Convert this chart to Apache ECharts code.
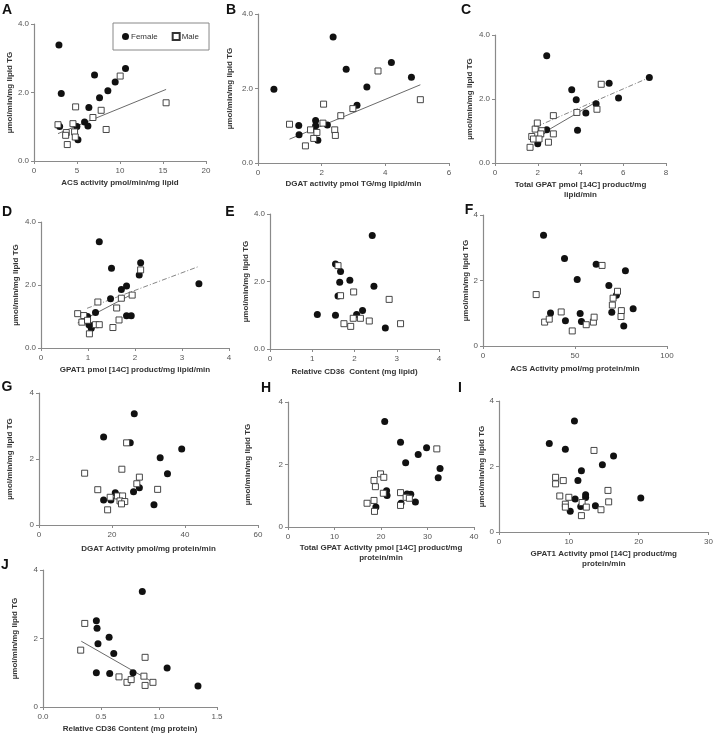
<!DOCTYPE html>
<html>
<head>
<meta charset="utf-8">
<script src="https://cdn.jsdelivr.net/npm/echarts@6/dist/echarts.min.js"></script>
<style>
html,body{margin:0;padding:0;background:#fff;}
#chart{width:716px;height:735px;}
</style>
</head>
<body>
<div id="chart"></div>
<script>
// ---------- data ----------
const femaleA = [[2.90,3.39],[3.17,1.97],[7.04,2.51],[7.62,1.85],[8.59,2.05],[9.44,2.31],[10.64,2.70],[6.38,1.56],[5.88,1.14],[6.27,1.02],[4.99,1.01],[5.11,0.62],[2.98,1.01]];
const maleA = [[2.79,1.06],[4.84,1.58],[4.53,1.09],[3.75,0.83],[3.68,0.75],[3.87,0.48],[4.72,0.85],[4.80,0.70],[6.85,1.27],[7.81,1.48],[8.39,0.92],[10.02,2.48],[15.36,1.70]];
const fitA = [[2.79,0.80],[15.36,2.09]];

const femaleB = [[0.50,1.98],[2.36,3.38],[2.77,2.52],[4.19,2.70],[4.82,2.30],[3.42,2.04],[3.11,1.55],[1.81,1.14],[1.81,1.00],[2.18,1.02],[1.28,1.01],[1.29,0.76],[1.88,0.61]];
const maleB = [[0.99,1.04],[2.06,1.58],[2.04,1.07],[1.65,0.89],[1.85,0.82],[1.75,0.66],[1.49,0.46],[2.41,0.89],[2.43,0.74],[2.60,1.27],[2.98,1.46],[3.77,2.47],[5.10,1.70]];
const fitB = [[0.99,0.64],[5.10,2.10]];

const femaleC = [[2.42,3.35],[3.59,2.29],[3.80,1.98],[3.86,1.02],[4.25,1.56],[4.73,1.85],[5.34,2.49],[5.78,2.03],[7.22,2.67],[2.42,1.04],[2.00,0.60]];
const maleC = [[1.64,0.49],[1.72,0.83],[1.80,0.75],[1.88,1.06],[1.98,1.25],[2.19,1.01],[2.14,0.91],[2.06,0.75],[2.50,0.65],[2.73,0.91],[2.73,1.48],[3.83,1.58],[4.77,1.68],[4.97,2.46]];
const fitCMale = [[1.72,0.73],[4.77,1.92]];
const fitCFemale = [[1.95,1.14],[7.22,2.67]];

const femaleD = [[1.24,3.37],[1.50,2.53],[2.12,2.71],[2.09,2.32],[1.82,1.97],[1.71,1.86],[1.48,1.56],[1.16,1.13],[1.82,1.02],[1.92,1.02],[0.99,1.00],[1.02,0.74],[1.07,0.63],[3.36,2.04]];
const maleD = [[0.78,1.09],[0.91,1.03],[0.87,0.82],[0.99,0.88],[1.03,0.45],[1.16,0.74],[1.24,0.74],[1.21,1.46],[1.61,1.27],[1.71,1.58],[1.66,0.89],[1.53,0.65],[1.94,1.68],[2.12,2.48]];
const fitDMale = [[0.78,0.80],[1.98,1.74]];
const fitDFemale = [[0.98,1.26],[3.36,2.59]];

const femaleE = [[2.42,3.36],[1.55,2.52],[1.67,2.30],[1.65,1.98],[1.89,2.04],[2.46,1.86],[1.61,1.57],[1.12,1.02],[1.55,1.00],[2.05,1.02],[2.19,1.14],[2.73,0.62]];
const maleE = [[1.61,2.47],[1.67,1.58],[1.98,1.69],[1.97,0.91],[2.14,0.91],[2.35,0.83],[1.75,0.75],[1.91,0.67],[2.82,1.47],[3.09,0.75]];

const femaleF = [[32.9,3.38],[44.3,2.67],[61.5,2.50],[77.4,2.30],[51.2,2.03],[68.4,1.85],[72.5,1.55],[36.7,1.01],[52.8,0.99],[70.0,1.03],[81.6,1.14],[44.8,0.77],[53.5,0.75],[76.5,0.61]];
const maleF = [[28.9,1.57],[33.5,0.73],[36.0,0.82],[42.5,1.04],[48.5,0.46],[56.1,0.65],[60.0,0.73],[60.4,0.88],[64.7,2.46],[70.3,1.25],[70.7,1.46],[73.1,1.67],[75.2,1.08],[75.0,0.90]];

const femaleG = [[26.1,3.37],[17.7,2.67],[25.0,2.49],[39.1,2.30],[33.2,2.04],[35.2,1.55],[20.9,0.98],[27.5,1.13],[25.9,1.01],[17.7,0.76],[19.7,0.76],[31.5,0.61]];
const maleG = [[12.5,1.57],[16.1,1.07],[19.5,0.84],[18.8,0.46],[22.7,1.69],[24.0,2.49],[21.5,0.88],[22.9,0.88],[22.2,0.73],[23.5,0.71],[22.6,0.64],[26.8,1.25],[27.5,1.45],[32.5,1.08]];

const femaleH = [[20.8,3.38],[24.2,2.71],[29.8,2.54],[28.0,2.32],[25.3,2.06],[32.7,1.87],[32.3,1.58],[21.2,1.16],[21.3,1.01],[25.6,1.06],[26.4,1.05],[27.4,0.80],[18.9,0.64],[24.3,0.76]];
const maleH = [[17.0,0.76],[18.5,0.85],[18.6,0.50],[18.5,1.49],[18.8,1.29],[19.9,1.70],[20.6,1.59],[20.5,1.08],[24.2,1.10],[24.2,0.69],[25.4,0.95],[26.1,0.92],[32.0,2.50]];

const femaleI = [[10.8,3.39],[7.2,2.70],[9.5,2.53],[16.4,2.32],[14.8,2.05],[11.8,1.87],[11.3,1.57],[12.4,1.14],[12.4,1.05],[10.9,1.01],[20.3,1.04],[11.7,0.78],[13.8,0.80],[10.2,0.63]];
const maleI = [[8.1,1.67],[8.1,1.47],[9.2,1.57],[8.7,1.10],[10.0,1.06],[9.5,0.85],[9.5,0.76],[11.9,0.90],[11.8,0.50],[12.5,0.76],[14.6,0.68],[13.6,2.49],[15.6,1.27],[15.7,0.92]];

const femaleJ = [[0.856,3.37],[0.46,2.52],[0.466,2.30],[0.57,2.04],[0.474,1.85],[0.61,1.56],[0.46,1.00],[0.575,0.98],[0.776,1.00],[1.07,1.14],[1.336,0.61]];
const maleJ = [[0.36,2.44],[0.325,1.66],[0.655,0.88],[0.724,0.72],[0.76,0.80],[0.87,0.90],[0.88,1.45],[0.88,0.63],[0.948,0.72]];
const fitJ = [[0.33,1.92],[0.934,0.75]];

const panelLetters = ['A','B','C','D','E','F','G','H','I','J'];
const xTitles = [
  'ACS activity pmol/min/mg lipid',
  'DGAT activity pmol TG/mg lipid/min',
  'Total GPAT pmol [14C] product/mg\nlipid/min',
  'GPAT1 pmol [14C] product/mg lipid/min',
  'Relative CD36  Content (mg lipid)',
  'ACS Activity pmol/mg protein/min',
  'DGAT Activity pmol/mg protein/min',
  'Total GPAT Activity pmol [14C] product/mg\nprotein/min',
  'GPAT1 Activity pmol [14C] product/mg\nprotein/min',
  'Relative CD36 Content (mg protein)'
];
const yTitle = 'µmol/min/mg lipid TG';
const xMax = [20, 6, 8, 4, 4, 100, 60, 40, 30, 1.5];
const xStep = [5, 2, 2, 1, 1, 50, 20, 10, 10, 0.5];
const yMax = 4, yStep = 2;
const yDecimals = [1,1,1,1,1,0,0,0,0,0];
const xDecimals = [0,0,0,0,0,0,0,0,0,1];

const females = [femaleA,femaleB,femaleC,femaleD,femaleE,femaleF,femaleG,femaleH,femaleI,femaleJ];
const males = [maleA,maleB,maleC,maleD,maleE,maleF,maleG,maleH,maleI,maleJ];
const solidFits = [fitA, fitB, fitCMale, fitDMale, null, null, null, null, null, fitJ];
const dashFits = [null, null, fitCFemale, fitDFemale, null, null, null, null, null, null];

// ---------- layout ----------
const layout = [
  {l:34, t:24, w:172, h:137, yg:20, xg:17, letter:[7,10]},
  {l:258, t:14, w:191, h:149, yg:24, xg:16, letter:[231,10]},
  {l:495, t:35, w:171, h:128, yg:21, xg:17, letter:[466,10]},
  {l:41, t:222, w:188, h:126, yg:21, xg:17, letter:[7,212]},
  {l:270, t:214, w:169, h:135, yg:19, xg:18, letter:[230,212]},
  {l:483, t:215, w:184, h:131, yg:12, xg:18, letter:[469,210]},
  {l:39, t:393, w:219, h:132, yg:25, xg:19, letter:[7,387]},
  {l:288, t:402, w:186, h:125, yg:36, xg:16, letter:[266,388]},
  {l:499, t:401, w:212, h:131, yg:13, xg:17, letter:[460,388]},
  {l:43, t:570, w:174, h:137, yg:24, xg:17, letter:[5,565]}
];

const FONT = '"Liberation Sans", Arial, Helvetica, sans-serif';
const axisColor = '#8a8a8a';
const grid = [], xAxis = [], yAxis = [], series = [], graphic = [];

for (let i = 0; i < 10; i++) {
  const L = layout[i];
  grid.push({left:L.l, top:L.t, width:L.w, height:L.h, containLabel:false});
  xAxis.push({
    gridIndex:i, type:'value', min:0, max:xMax[i], interval:xStep[i],
    axisLine:{show:true, onZero:false, lineStyle:{color:axisColor, width:1.2}},
    axisTick:{show:true, length:3, lineStyle:{color:axisColor, width:1}},
    splitLine:{show:false},
    axisLabel:{fontSize:8, color:'#555', margin:6, fontFamily:FONT,
      formatter:(v)=>v.toFixed(xDecimals[i])},
    name:xTitles[i], nameLocation:'middle', nameGap:L.xg,
    nameTextStyle:{fontSize:8, fontWeight:'bold', color:'#333', fontFamily:FONT, lineHeight:10, verticalAlign:'top'}
  });
  yAxis.push({
    gridIndex:i, type:'value', min:0, max:yMax, interval:yStep,
    axisLine:{show:true, onZero:false, lineStyle:{color:axisColor, width:1.2}},
    axisTick:{show:true, length:3, lineStyle:{color:axisColor, width:1}},
    splitLine:{show:false},
    axisLabel:{fontSize:8, color:'#555', margin:5, fontFamily:FONT,
      formatter:(v)=>v.toFixed(yDecimals[i])},
    name:yTitle, nameLocation:'middle', nameGap:L.yg,
    nameTextStyle:{fontSize:8, fontWeight:'bold', color:'#333', fontFamily:FONT}
  });
  if (solidFits[i]) series.push({
    type:'line', xAxisIndex:i, yAxisIndex:i, data:solidFits[i], symbol:'none', silent:true,
    lineStyle:{color:'#444', width:0.8, type:'solid'}, z:1
  });
  if (dashFits[i]) series.push({
    type:'line', xAxisIndex:i, yAxisIndex:i, data:dashFits[i], symbol:'none', silent:true,
    lineStyle:{color:'#666', width:0.8, type:[5,2,1,2]}, z:1
  });
  series.push({
    name:'Female', type:'scatter', xAxisIndex:i, yAxisIndex:i, data:females[i],
    symbol:'circle', symbolSize:7, itemStyle:{color:'#111', opacity:1}, z:2
  });
  series.push({
    name:'Male', type:'scatter', xAxisIndex:i, yAxisIndex:i, data:males[i],
    symbol:'rect', symbolSize:6, itemStyle:{color:'#fff', borderColor:'#333', borderWidth:0.9, opacity:1}, z:3
  });
  graphic.push({
    type:'text', x:L.letter[0], y:L.letter[1],
    style:{text:panelLetters[i], font:'bold 14px ' + FONT, fill:'#111', align:'center', verticalAlign:'middle'}
  });
}

const chart = echarts.init(document.getElementById('chart'), null, {renderer:'canvas'});
chart.setOption({
  animation:false,
  backgroundColor:'#fff',
  textStyle:{fontFamily:FONT},
  grid, xAxis, yAxis, series, graphic,
  legend:{
    data:['Female','Male'], left:113, top:23, orient:'horizontal',
    padding:[9,10,9,9], itemWidth:7, itemHeight:7, itemGap:14,
    borderColor:'#888', borderWidth:1, backgroundColor:'#fff',
    textStyle:{fontSize:8, color:'#333', fontFamily:FONT, padding:[0,0,0,-3]},
    selectedMode:false
  }
});
</script>
</body>
</html>
